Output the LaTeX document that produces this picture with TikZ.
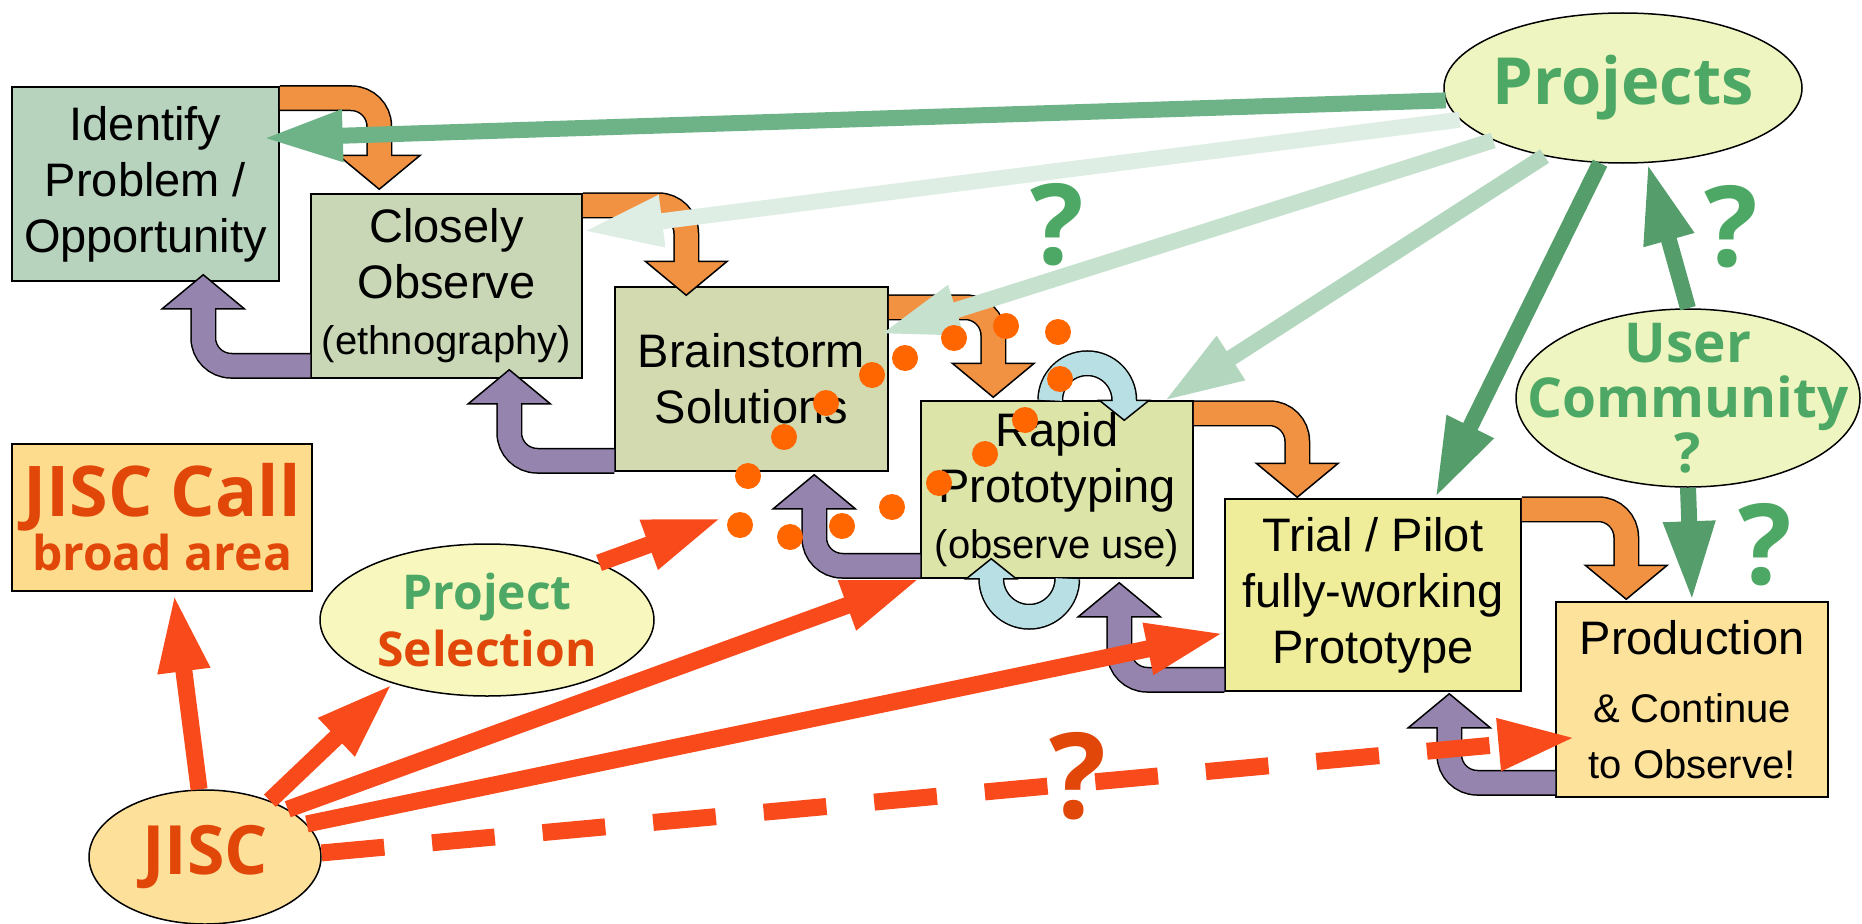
\documentclass[tikz,border=0pt]{standalone}
\usepackage{fontspec}
\setmainfont{Liberation Sans}
\newfontfamily\labfont{Open Sans}
\usetikzlibrary{shapes.geometric,arrows.meta,calc}

\definecolor{boxA}{HTML}{B7D3BD}
\definecolor{boxB}{HTML}{C9D7B7}
\definecolor{boxC}{HTML}{D3DAAF}
\definecolor{boxD}{HTML}{DCE4A7}
\definecolor{boxE}{HTML}{EFED9A}
\definecolor{boxF}{HTML}{FDE29C}
\definecolor{boxG}{HTML}{FDDD8D}
\definecolor{blobA}{HTML}{EFF5C0}
\definecolor{blobB}{HTML}{F8F7BD}
\definecolor{blobC}{HTML}{FDE09A}
\definecolor{txtO}{HTML}{E2470A}
\definecolor{txtG}{HTML}{4EA865}
\definecolor{redA}{HTML}{F94A1B}
\definecolor{dotA}{HTML}{FF6600}
\definecolor{turnO}{HTML}{F09242}
\definecolor{turnP}{HTML}{9484AE}
\definecolor{turnB}{HTML}{B8DFE3}
\definecolor{gDark}{HTML}{559E6B}
\definecolor{gMid}{HTML}{6DB387}
\definecolor{gLight}{HTML}{B3D6BE}
\definecolor{gPale}{HTML}{C7E1CF}
\definecolor{gFaint}{HTML}{DFEEE4}

\tikzset{
	stage/.style={draw, line width=1.5pt, inner sep=0pt, align=center, font=\fontsize{47}{56}\selectfont},
	blob/.style={ellipse, draw, line width=1.5pt, inner sep=0pt},
	bloblab/.style={align=center, inner sep=0pt},
	feed/.style={line width=16pt, -{Triangle[length=80pt,width=48pt]}},
	push/.style={draw=redA, line width=17pt, -{Triangle[length=78pt,width=48pt]}},
	blot/.style={fill=dotA},
	query/.style={inner sep=0pt, font=\labfont\bfseries\fontsize{112}{112}\selectfont},
	turnedge/.style={line width=26pt, rounded corners=28pt},
	turnfill/.style={draw=#1, line width=23pt, rounded corners=28pt},
}

\newcommand{\downturn}[3]{%
	\path (#3) ++(0,-34) coordinate (hb);
	\draw[turnedge] (#2) -| ($(hb)+(0,2)$);
	\filldraw[fill=#1, line width=1.5pt] ($(hb)+(-41,0)$) -- (#3) -- ($(hb)+(41,0)$) -- cycle;
	\draw[turnfill=#1] (#2) -| ($(hb)+(0,2)$);
}
\newcommand{\upturn}[3]{%
	\path (#3) ++(0,34) coordinate (hb);
	\draw[turnedge] (#2) -| ($(hb)+(0,-2)$);
	\filldraw[fill=#1, line width=1.5pt] ($(hb)+(-41,0)$) -- (#3) -- ($(hb)+(41,0)$) -- cycle;
	\draw[turnfill=#1] (#2) -| ($(hb)+(0,-2)$);
}

\begin{document}
\begin{tikzpicture}[x=1pt,y=-1pt]
	\useasboundingbox (0,0) rectangle (1862,923);

	\node[stage, fill=boxA, minimum width=267pt, minimum height=194pt] (ident) at (145.5,184) {Identify\\Problem /\\Opportunity};
	\node[stage, fill=boxB, minimum width=271pt, minimum height=184pt] (clos) at (446.5,286) {Closely\\Observe\\{\fontsize{40}{48}\selectfont(ethnography)}};
	\node[stage, fill=boxC, minimum width=273pt, minimum height=184pt] (brain) at (751.5,379) {Brainstorm\\Solutions};
	\node[stage, fill=boxD, minimum width=272pt, minimum height=177pt] (rapid) at (1057,489.5) {Rapid\\Prototyping\\{\fontsize{40}{48}\selectfont(observe use)}};
	\node[stage, fill=boxE, minimum width=296pt, minimum height=192pt] (trial) at (1373,595) {Trial / Pilot\\fully-working\\Prototype};
	\node[stage, fill=boxF, minimum width=272pt, minimum height=195pt] (prod) at (1692,699.5) {Production\\[12pt]{\fontsize{40}{50}\selectfont\& Continue}\\{\fontsize{40}{50}\selectfont to Observe!}};
	\node[stage, fill=boxG, minimum width=300pt, minimum height=147pt, text=txtO, font=\labfont\bfseries] (call) at (162,517.5) {{\fontsize{70}{70}\selectfont JISC Call}\\[2pt]{\fontsize{48}{58}\selectfont broad area}};

	\node[blob, fill=blobA, minimum width=358pt, minimum height=150pt, label={[bloblab, text=txtG, font=\labfont\bfseries\fontsize{65}{68}\selectfont]center:Projects}] (proj) at (1623,88) {};
	\node[blob, fill=blobA, minimum width=344pt, minimum height=178pt, label={[bloblab, text=txtG, font=\labfont\bfseries\fontsize{55}{55}\selectfont]center:User\\Community\\?}] (user) at (1688,398) {};
	\node[blob, fill=blobB, minimum width=334pt, minimum height=152pt, label={[bloblab, font=\labfont\bfseries\fontsize{48}{57}\selectfont]center:{\color{txtG}Project}\\{\color{txtO}Selection}}] (sel) at (487,620) {};
	\node[blob, fill=blobC, minimum width=232pt, minimum height=134pt, label={[bloblab, text=txtO, font=\labfont\bfseries\fontsize{68}{68}\selectfont]center:JISC}] (jisc) at (205,857) {};

	\downturn{turnO}{$(ident.north east)+(0,12)$}{$(clos.north west)+(69,-4)$}
	\downturn{turnO}{$(clos.north east)+(0,12)$}{$(brain.north west)+(72,9)$}
	\downturn{turnO}{$(brain.north east)+(0,21)$}{$(rapid.north west)+(73,-3)$}
	\downturn{turnO}{$(rapid.north east)+(0,13)$}{$(trial.north west)+(73,-1)$}
	\downturn{turnO}{$(trial.north east)+(0,11)$}{$(prod.north west)+(71,-2)$}

	\upturn{turnP}{$(clos.south west)+(0,-13)$}{$(ident.south west)+(192,-7)$}
	\upturn{turnP}{$(brain.south west)+(0,-11)$}{$(clos.south west)+(199,-9)$}
	\upturn{turnP}{$(rapid.south west)+(0,-13)$}{$(brain.south west)+(200,3)$}
	\upturn{turnP}{$(trial.south west)+(0,-12)$}{$(rapid.south west)+(199,4)$}
	\upturn{turnP}{$(prod.south west)+(0,-15)$}{$(trial.south west)+(225,2)$}

	\coordinate (la) at ($(rapid.north west)+(130,0)$);
	\draw[turnedge, rounded corners=37pt] (la) -- ++(0,-37) -- ++(74,0) -- ++(0,39);
	\filldraw[fill=turnB, line width=1.5pt] ($(la)+(49,0)$) -- ($(la)+(74,20)$) -- ($(la)+(99,0)$) -- cycle;
	\draw[turnfill=turnB, rounded corners=37pt] (la) -- ++(0,-37) -- ++(74,0) -- ++(0,39);
	\coordinate (lb) at ($(rapid.south west)+(147,0)$);
	\draw[turnedge, rounded corners=38pt] (lb) -- ++(0,38) -- ++(-76,0) -- ++(0,-40);
	\filldraw[fill=turnB, line width=1.5pt] ($(lb)+(-101,0)$) -- ($(lb)+(-76,-20)$) -- ($(lb)+(-51,0)$) -- cycle;
	\draw[turnfill=turnB, rounded corners=38pt] (lb) -- ++(0,38) -- ++(-76,0) -- ++(0,-40);

	\draw[feed, gMid] (proj.184) -- ($(ident.north east)+(-17,52)$);
	\draw[feed, gFaint] (proj.191) -- ($(clos.north east)+(0,38)$);
	\draw[feed, gPale] (proj.202) -- ($(brain.north east)+(-9,48)$);
	\draw[feed, gLight] (proj.221) -- ($(rapid.north east)+(-30,1)$);
	\draw[feed, gDark] (proj.253) -- ($(trial.north)+(62,0)$);
	\draw[feed, gDark] (user.north) -- (proj.288);
	\draw[feed, gDark] (user.south) -- (prod.north);

	\coordinate (gap) at (722,518);
	\draw[push] (jisc.95) -- ($(call.south)+(12,2)$);
	\draw[push] (jisc.41) -- (sel.214);
	\draw[push] (sel.27) -- (gap);
	\draw[push] (jisc.30) -- (rapid.south west);
	\draw[push] (jisc.18) -- ($(trial.west)+(0,38)$);
	\draw[push, dash pattern=on 63pt off 48pt] (jisc.2) -- ($(prod.west)+(21,38)$);

	\foreach \p in {{954,338},{1006,326},{1058,332},{905,358},{872,375},{1060,379},{826,403},{1025,420},
		{784,437},{985,454},{748,476},{939,483},{892,507},{740,525},{790,537},{842,526}}
		\fill[blot] (\p) circle[radius=13pt];

	\node[query, text=txtG] (q1) at (1057,225) {?};
	\node[query, text=txtG] (q2) at (1731,227) {?};
	\node[query, text=txtG] (q3) at (1765,545) {?};
	\node[query, text=txtO, font=\labfont\bfseries\fontsize{119}{119}\selectfont] (q4) at (1078,776) {?};
\end{tikzpicture}
\end{document}
